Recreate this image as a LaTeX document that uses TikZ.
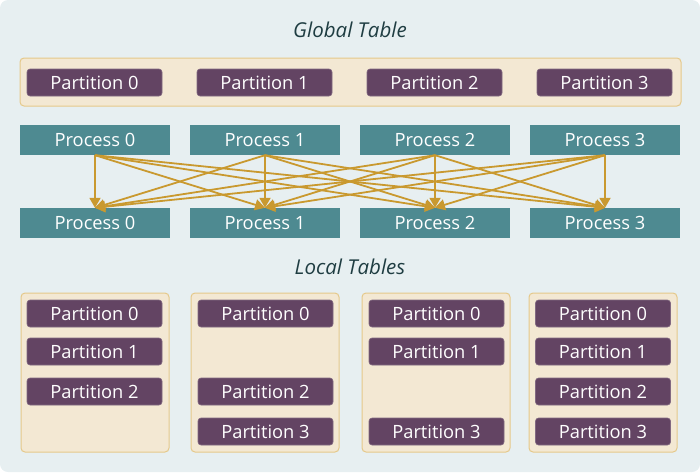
\documentclass[tikz,border=0pt]{standalone}
\usepackage{fontspec}
\setmainfont{Open Sans}
\usetikzlibrary{arrows.meta}
\definecolor{bgcol}{HTML}{E7EFF1}
\definecolor{titlecol}{HTML}{1F3D42}
\definecolor{creamcol}{HTML}{F3E8D3}
\definecolor{edgecol}{HTML}{E5C98A}
\definecolor{partcol}{HTML}{634463}
\definecolor{proccol}{HTML}{4E8A91}
\definecolor{goldcol}{HTML}{C9992F}
\tikzset{
  label font/.style={font=\fontsize{18.3}{21}\selectfont},
  partition/.style={label font, fill=partcol, draw=partcol!80!white, line width=0.6pt, rounded corners=3pt,
    minimum width=135pt, minimum height=27pt, inner sep=0pt, text=white},
  process/.style={label font, fill=proccol, minimum width=150pt, minimum height=30pt, inner sep=0pt, text=white},
  tablebox/.style={fill=creamcol, draw=edgecol, line width=1pt, rounded corners=4pt, inner sep=0pt},
  heading/.style={font=\fontsize{20.5}{24}\selectfont\itshape, text=titlecol},
  shuffle/.style={draw=goldcol, line width=1.8pt, -{Triangle[length=10pt,width=11pt]}}
}
\begin{document}
\begin{tikzpicture}[x=1pt, y=-1pt]
  \useasboundingbox (0,0) rectangle (700,472);
  \fill[bgcol, rounded corners=8pt] (0,0) rectangle (700,472);
  % global table
  \node[heading] (globaltitle) at (350,30) {Global Table};
  \node[tablebox, minimum width=661pt, minimum height=48pt] (global) at (350.5,82) {};
  \foreach \i in {0,...,3}
    \node[partition] (gp\i) at (94.5+170*\i,82.5) {Partition \i};
  % processes
  \foreach \i in {0,...,3} {
    \node[process] (top\i) at (95+170*\i,140) {Process \i};
    \node[process] (bot\i) at (95+170*\i,223) {Process \i};
  }
  \foreach \i in {0,...,3}
    \foreach \j in {0,...,3}
      \draw[shuffle] (top\i.south) -- (bot\j.north);
  % local tables
  \node[heading] (localtitle) at (350,267) {Local Tables};
  \foreach \i/\x in {0/95,1/265,2/436,3/603}
    \node[tablebox, minimum width=148pt, minimum height=159pt] (local\i) at (\x,372.5) {};
  \foreach \i/\x/\parts in {0/94.5/{0,1,2}, 1/265.5/{0,2,3}, 2/436.5/{0,1,3}, 3/603/{0,1,2,3}}
    \foreach \p in \parts {
      \pgfmathsetmacro\py{\p==0 ? 313.5 : 351.5+40*(\p-1)}
      \node[partition] (lp\i\p) at (\x,\py) {Partition \p};
    }
\end{tikzpicture}
\end{document}
